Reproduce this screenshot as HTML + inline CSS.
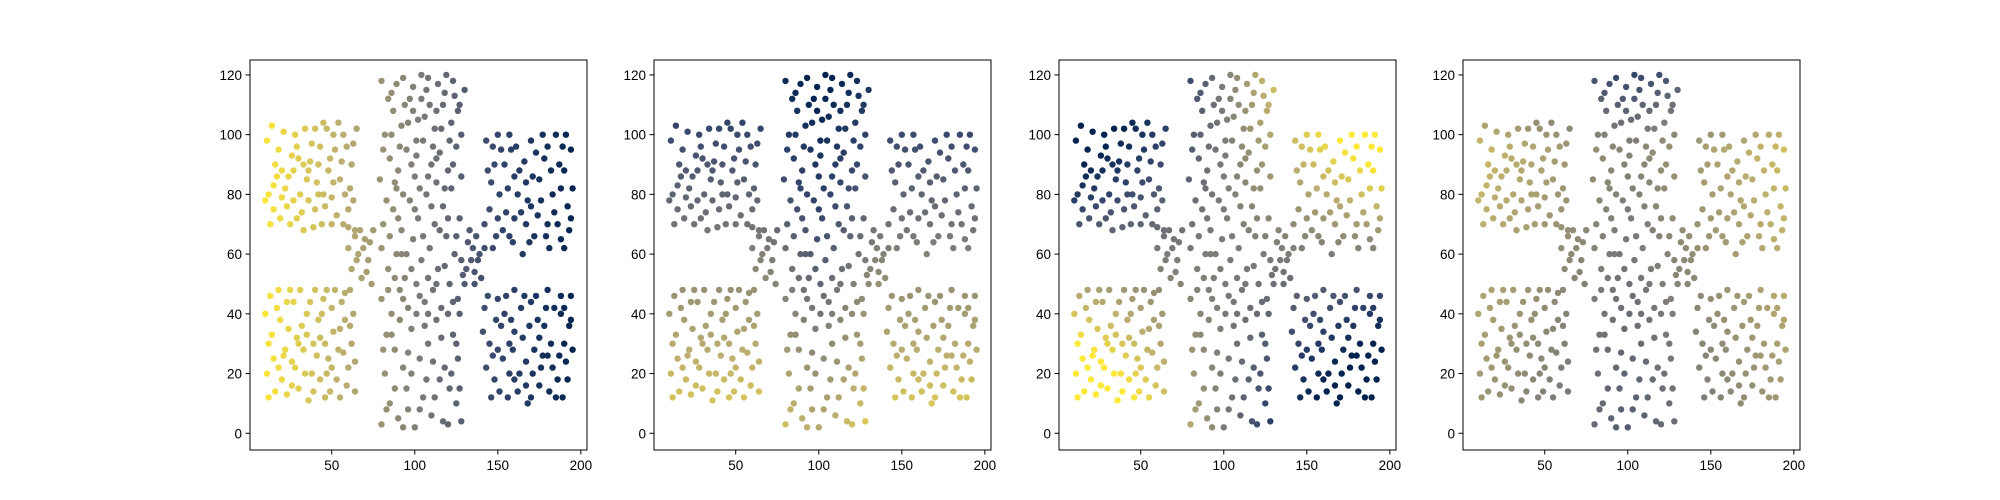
<!DOCTYPE html>
<html><head><meta charset="utf-8"><style>
body{margin:0;background:#fff;}
svg{display:block;font-family:"Liberation Sans",sans-serif;}
</style></head><body>
<svg id="chart" width="2000" height="500" xmlns="http://www.w3.org/2000/svg"></svg>
<script>
const xTicks=[50,100,150,200];
const yTicks=[0,20,40,60,80,100,120];
const points=[
[12,80],[15,75],[10,78],[18,95],[14,103],[20,88],[25,70],[28,100],[22,82],[30,92],[33,68],[35,85],[38,97],[40,75],[42,90],[45,80],[47,102],[50,70],[52,95],[55,85],[57,100],[60,75],[62,90],[64,68],[48,88],[36,78],[26,93],[17,86],[44,70],[58,80],[31,80],[54,104],[40,102],[23,76],[13,70],[63,97],[50,79],[29,72],[37,91],[60,69],
[12,12],[15,25],[10,40],[18,48],[20,18],[24,35],[27,44],[30,15],[33,28],[35,40],[38,20],[40,48],[43,32],[46,12],[48,25],[50,42],[53,18],[55,35],[58,47],[60,22],[62,30],[64,14],[14,33],[22,28],[28,22],[36,11],[42,38],[47,20],[52,48],[57,27],[63,40],[25,48],[32,36],[18,22],[45,45],[39,30],[55,12],[11,20],[61,48],[30,30],
[80,3],[85,10],[90,5],[95,15],[100,2],[105,12],[110,6],[115,18],[120,3],[125,10],[128,4],
[82,20],[88,28],[93,22],[98,35],[103,25],[108,30],[113,38],[118,22],[123,33],[127,40],
[80,45],[86,40],[91,48],[96,42],[101,50],[106,44],[111,48],[116,42],[121,50],[126,45],
[84,55],[89,60],[94,52],[99,65],[104,58],[109,62],[114,55],[119,66],[124,60],[129,53],
[81,70],[87,75],[92,68],[97,78],[102,72],[107,80],[112,70],[117,76],[122,82],[127,72],
[79,85],[85,92],[90,88],[95,95],[100,86],[105,98],[110,90],[115,94],[120,88],[125,96],
[82,100],[87,108],[92,103],[97,112],[102,105],[107,115],[112,102],[117,110],[122,104],[128,100],
[80,118],[86,114],[93,119],[99,108],[104,120],[109,110],[114,117],[119,120],[124,113],[130,115],
[83,33],[96,8],[108,52],[121,15],[89,82],[113,84],[101,93],[126,25],[92,60],
[142,62],[145,75],[148,90],[150,100],[153,68],[156,82],[158,95],[160,72],[163,88],[165,60],[168,78],[170,98],[172,66],[175,85],[178,92],[180,70],[183,80],[185,100],[188,65],[190,88],[192,76],[194,95],[146,84],[152,95],[159,64],[166,91],[174,73],[181,62],[187,90],[193,68],[143,98],[155,74],[162,80],[171,86],[177,100],[184,74],[189,96],[149,66],[167,70],[195,82],
[142,42],[145,30],[148,18],[150,45],[153,25],[156,12],[158,38],[160,48],[163,20],[165,32],[168,10],[170,44],[172,28],[175,16],[178,36],[180,48],[183,22],[185,12],[188,40],[190,30],[192,18],[194,46],[146,12],[152,36],[159,28],[166,46],[174,38],[181,14],[187,26],[193,36],[143,22],[155,46],[162,14],[171,20],[177,26],[184,42],[189,12],[149,38],[167,24],[195,28],
[62,55],[66,60],[70,65],[68,52],[72,58],[75,68],[64,66],[131,55],[135,62],[138,58],[133,68],[140,52],[136,50],[132,64],[74,50],[60,62]
];
const extraPoints=[
[11,98],[16,90],[19,72],[21,101],[24,86],[27,78],[29,96],[32,74],[34,102],[36,88],[39,69],[41,84],[43,96],[46,76],[49,92],[51,84],[53,73],[56,91],[59,96],[61,82],[63,78],[65,102],[45,104],[33,90],[20,79],[15,83],[57,70],[42,80],[27,88],[51,100],
[13,46],[16,14],[19,38],[21,26],[23,44],[26,16],[29,32],[31,48],[34,20],[37,44],[39,14],[41,26],[44,40],[46,30],[49,14],[51,34],[54,28],[56,44],[59,16],[61,36],[64,24],[12,30],[17,42],[26,24],[35,33],[43,18],[50,22],[58,38],[23,13],[47,48],
[83,8],[88,15],[93,2],[98,20],[103,8],[107,18],[112,12],[117,4],[122,20],[127,15],
[81,28],[86,33],[91,38],[96,27],[101,40],[106,36],[111,24],[116,32],[120,40],[125,30],
[84,48],[88,52],[93,45],[98,55],[103,46],[108,40],[113,50],[118,56],[123,44],[128,58],
[80,62],[85,66],[90,72],[95,60],[100,75],[105,66],[110,76],[115,68],[120,72],[125,66],
[83,78],[88,84],[93,80],[98,90],[103,82],[108,86],[113,92],[118,82],[123,90],[128,86],
[81,95],[86,100],[91,96],[96,104],[101,98],[106,106],[111,96],[116,102],[121,98],[126,108],
[84,112],[89,117],[94,110],[99,116],[104,112],[108,119],[113,108],[118,114],[123,118],[127,110],
[142,70],[144,88],[147,96],[151,80],[154,90],[157,66],[161,96],[164,74],[167,84],[169,64],[173,94],[176,78],[179,66],[182,88],[186,70],[188,82],[191,100],[194,72],[150,72],[160,86],[170,76],[180,96],[190,62],[157,100],[147,62],
[141,34],[144,46],[147,26],[151,14],[154,40],[157,20],[160,34],[164,42],[167,16],[169,36],[173,46],[176,22],[179,42],[182,30],[186,18],[188,46],[191,24],[194,38],[150,28],[160,18],[170,12],[180,26],[190,42],[157,30],[175,32],
[65,58],[69,62],[71,54],[73,64],[67,68],[134,58],[137,66],[139,60],[130,50],[136,54]
];
const panelLefts=[250,654,1059,1463];
const NS="http://www.w3.org/2000/svg";
const svg=document.getElementById('chart');
const W=337, TOP=60, BOT=450;
const xMin=0.8, xMax=203.7, yMin=-5.6, yMax=125;
const stops=[[0,[0,34,78]],[0.25,[53,69,108]],[0.5,[124,123,120]],[0.75,[188,175,111]],[1,[254,232,56]]];
function cividis(t){t=Math.max(0,Math.min(1,t));for(let i=1;i<stops.length;i++){if(t<=stops[i][0]){const a=stops[i-1],b=stops[i];const f=(t-a[0])/(b[0]-a[0]);const c=a[1].map((v,k)=>Math.round(v+(b[1][k]-v)*f));return `rgb(${c[0]},${c[1]},${c[2]})`;}}return 'rgb(254,232,56)';}
const colorFns=[
 (x,y)=>1-(x-8)/190,
 (x,y)=>0.92-0.0065*y-0.0055*Math.max(0,35-Math.abs(x-100)),
 (x,y)=>0.5+0.00019*(x-100)*(y-60),
 (x,y)=>0.47+0.003*Math.abs(x-100)+0.002*(y-60)-0.014*Math.max(0,y-95)
];
function mk(tag,attrs,parent){const e=document.createElementNS(NS,tag);for(const k in attrs)e.setAttribute(k,attrs[k]);parent.appendChild(e);return e;}
const allPoints=points.concat(extraPoints);
panelLefts.forEach((L,pi)=>{
 const sx=v=>L+(v-xMin)/(xMax-xMin)*W;
 const sy=v=>BOT-(v-yMin)/(yMax-yMin)*(BOT-TOP);
 const g=mk('g',{},svg);
 
 
 const pts=mk('g',{},g);
 
 
 allPoints.forEach(p=>{
  const c=mk('circle',{cx:sx(p[0]).toFixed(1),cy:sy(p[1]).toFixed(1),r:3.2,fill:cividis(colorFns[pi](p[0],p[1]))},pts);
  
  
 });
 const fr=mk('rect',{x:L,y:TOP,width:W,height:BOT-TOP,fill:'none',stroke:'#000','stroke-width':1},g);
 
 
 xTicks.forEach(t=>{
  const x=sx(t);
  mk('line',{x1:x,x2:x,y1:BOT,y2:BOT+4.5,stroke:'#000'},g);
  const tx=mk('text',{x:x,y:BOT+20,'font-size':13.5,'text-anchor':'middle'},g);
  tx.textContent=t;
  
  
 });
 yTicks.forEach(t=>{
  const y=sy(t);
  mk('line',{x1:L-4.5,x2:L,y1:y,y2:y,stroke:'#000'},g);
  const tx=mk('text',{x:L-8,y:y+5,'font-size':13.5,'text-anchor':'end'},g);
  tx.textContent=t;
  
  
 });
});
</script>
</body></html>
